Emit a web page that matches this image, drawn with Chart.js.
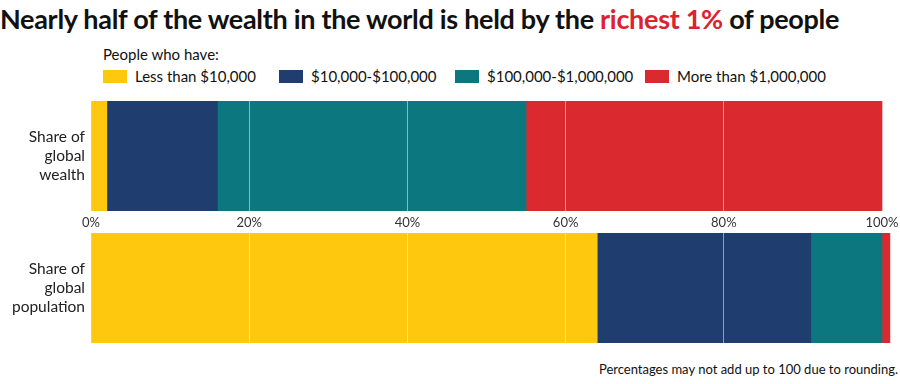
<!DOCTYPE html>
<html><head><meta charset="utf-8">
<script src="https://cdn.jsdelivr.net/npm/chart.js@4/dist/chart.umd.min.js"></script>
<style>
html,body{margin:0;padding:0;background:#fff;}
body{width:900px;height:384px;position:relative;overflow:hidden;font-family:Lato,'Open Sans',sans-serif;color:#111;}
#title{position:absolute;left:0;top:2px;font-weight:700;font-size:27px;white-space:nowrap;letter-spacing:-0.3px;}
#title .hl{color:#d9232e;}
#legendHead{position:absolute;left:103px;top:45px;font-size:15px;color:#111;}
#legend{position:absolute;left:103px;top:67px;height:18px;font-size:15px;color:#111;}
.item{position:absolute;top:0;display:flex;align-items:center;white-space:nowrap;height:18px;}
.sw{width:24px;height:13px;margin-right:8px;flex:none;}
#c1{position:absolute;left:0;top:101px;}
#c2{position:absolute;left:0;top:233px;}
#note{position:absolute;right:2px;top:361px;font-size:13px;color:#111;white-space:nowrap;}
</style></head>
<body>
<div id="title">Nearly half of the wealth in the world is held by the <span class="hl">richest 1%</span> of people</div>
<div id="legendHead">People who have:</div>
<div id="legend"></div>
<canvas id="c1" width="900" height="133"></canvas>
<canvas id="c2" width="900" height="110"></canvas>
<div id="note">Percentages may not add up to 100 due to rounding.</div>
<script>
// ---- data ----
const rowLabels = [["Share of", "global", "wealth"], ["Share of", "global", "population"]];
const bandLabels = ["Less than $10,000", "$10,000-$100,000", "$100,000-$1,000,000", "More than $1,000,000"];
const bandColors = ["#fec80f", "#1f3e6f", "#0d7780", "#da2a30"];
const wealthShare = [2, 14, 39, 45];
const populationShare = [64, 27, 9, 1];
const xTickValues = [0, 20, 40, 60, 80, 100];

// ---- layout constants ----
const FONT = "Lato, 'Open Sans', sans-serif";
const Y_AXIS_W = 91;
const RIGHT_PAD = 8;
const X_MAX = 100 * (900 - Y_AXIS_W - RIGHT_PAD) / 791;

function makeChart(id, rowLabel, values, showTicks) {
  return new Chart(document.getElementById(id), {
    type: 'bar',
    data: {
      labels: [rowLabel],
      datasets: bandLabels.map((lab, i) => ({
        label: lab,
        data: [values[i]],
        backgroundColor: bandColors[i],
        borderWidth: 0,
        barPercentage: 1,
        categoryPercentage: 1
      }))
    },
    options: {
      indexAxis: 'y',
      responsive: false,
      animation: false,
      layout: { padding: { left: 0, right: RIGHT_PAD, top: 0, bottom: 0 } },
      plugins: { legend: { display: false }, tooltip: { enabled: false }, title: { display: false } },
      scales: {
        x: {
          stacked: true, min: 0, max: X_MAX, z: 1,
          afterBuildTicks: s => { s.ticks = xTickValues.map(v => ({ value: v })); },
          afterFit: s => { s.paddingLeft = 0; s.paddingRight = 0; s.height = showTicks ? 23 : 0; },
          grid: {
            z: 1, drawTicks: false, lineWidth: 1,
            color: c => (c.tick && c.tick.value > 0 && c.tick.value < 100) ? 'rgba(255,255,255,0.5)' : 'rgba(0,0,0,0)'
          },
          border: { display: false },
          ticks: {
            display: showTicks, padding: 4, color: '#333', maxRotation: 0, autoSkip: false,
            font: { size: 13, family: FONT },
            callback: v => v + '%'
          }
        },
        y: {
          stacked: true,
          grid: { display: false, drawTicks: false },
          border: { display: false },
          afterFit: s => { s.width = Y_AXIS_W; s.paddingTop = 0; s.paddingBottom = 0; },
          ticks: { color: '#222', padding: 6, font: { size: 15.5, family: FONT, lineHeight: 1.2 } }
        }
      }
    }
  });
}

const chartWealth = makeChart('c1', rowLabels[0], wealthShare, true);
const chartPop = makeChart('c2', rowLabels[1], populationShare, false);

// HTML legend built from the chart's datasets
const legendOffsets = [0, 176, 352, 542];
const lg = document.getElementById('legend');
chartWealth.data.datasets.forEach((ds, i) => {
  const it = document.createElement('div');
  it.className = 'item';
  it.style.left = legendOffsets[i] + 'px';
  const sw = document.createElement('span');
  sw.className = 'sw';
  sw.style.background = ds.backgroundColor;
  const tx = document.createElement('span');
  tx.textContent = ds.label;
  it.appendChild(sw); it.appendChild(tx);
  lg.appendChild(it);
});
</script>
</body></html>
